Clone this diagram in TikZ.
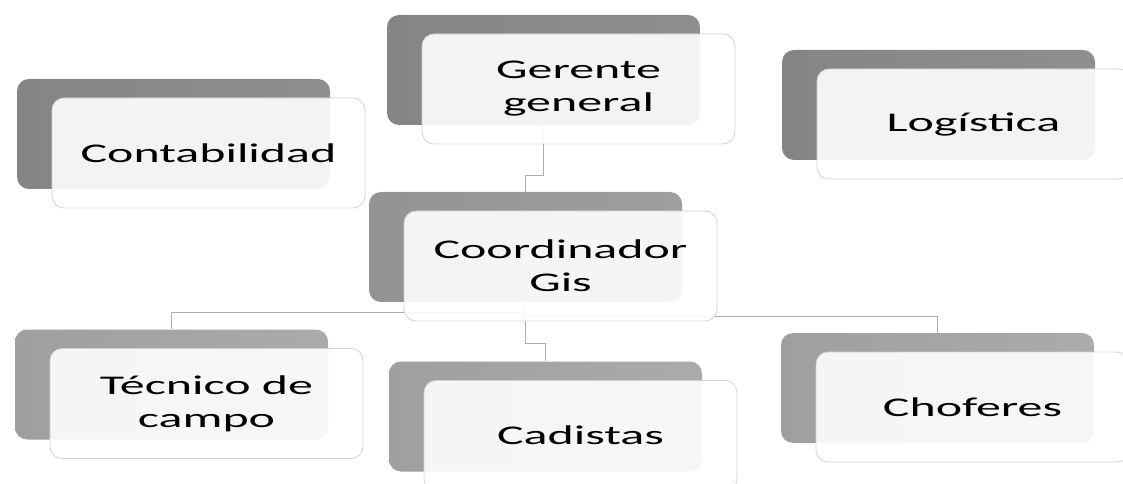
\documentclass[tikz,border=0pt]{standalone}
\usepackage{fontspec}
\setmainfont{Carlito}[FakeStretch=1.85]
\usetikzlibrary{calc}

\colorlet{fondoarriba}{gray!88}
\colorlet{fondomedio}{gray!76}
\colorlet{fondoabajo}{gray!66}

\tikzset{
  fondo/.style={draw=none, rounded corners=9pt, minimum width=234.75pt,
    minimum height=82.5pt, left color=#1!93!black, right color=#1},
  frente/.style={draw=gray!35, line width=0.6pt, rounded corners=9pt,
    fill=white, fill opacity=0.9, text opacity=1, minimum width=234.75pt,
    minimum height=82.5pt, align=center, text=black,
    font=\fontsize{20.25}{24.75}\selectfont},
  linea/.style={draw=gray!65, line width=1.1pt},
}

\begin{document}
\begin{tikzpicture}[x=0.75pt,y=-0.75pt]
    \useasboundingbox (0,0) rectangle (1123,484);

    % cajas de atras
    \node[fondo=fondoarriba] (contaB) at (173.5,134) {};
    \node[fondo=fondoarriba] (gerB) at (543.5,70) {};
    \node[fondo=fondoarriba] (logB) at (938.5,105) {};
    \node[fondo=fondomedio] (coordB) at (525.5,247) {};
    \node[fondo=fondoabajo] (tecB) at (171.5,384.5) {};
    \node[fondo=fondoabajo] (cadB) at (545.5,416.5) {};
    \node[fondo=fondoabajo] (chofB) at (937.5,388) {};

    % conectores
    \draw[linea] (gerB.south) -- ++(0,50) -| (coordB.north);
    \draw[linea] (coordB.south) -- ++(0,10) -| (tecB.north);
    \draw[linea] (coordB.south) -- ++(0,14) -| (chofB.north);
    \draw[linea] (coordB.south) -- ++(0,41) -| (cadB.north);

    % cajas de adelante
    \node[frente] (conta) at ($(contaB)+(35,19)$) {Contabilidad};
    \node[frente] (ger) at ($(gerB)+(35,19)$) {Gerente\\general};
    \node[frente] (log) at ($(logB)+(35,19)$) {Logística};
    \node[frente] (coord) at ($(coordB)+(35,19)$) {Coordinador\\Gis};
    \node[frente] (tec) at ($(tecB)+(35,19)$) {Técnico de\\campo};
    \node[frente] (cad) at ($(cadB)+(35,19)$) {Cadistas};
    \node[frente] (chof) at ($(chofB)+(35,19)$) {Choferes};
\end{tikzpicture}
\end{document}
